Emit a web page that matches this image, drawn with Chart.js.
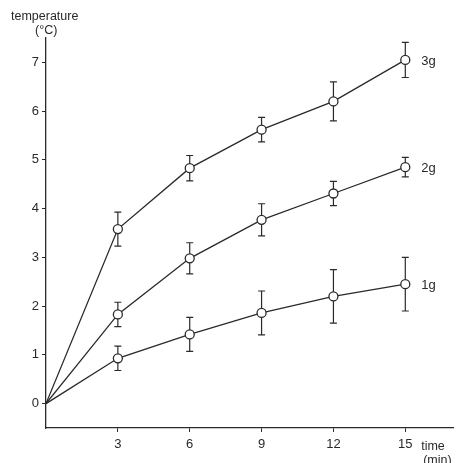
<!DOCTYPE html>
<html>
<head>
<meta charset="utf-8">
<script src="https://cdn.jsdelivr.net/npm/chart.js@4/dist/chart.umd.min.js"></script>
<style>
  body { margin: 0; background: #fff; }
  #wrap { width: 459px; height: 463px; }
</style>
</head>
<body>
<div id="wrap"><canvas id="tempChart" width="459" height="463"></canvas></div>
<script>
// time (min)
const xValues = [0, 3, 6, 9, 12, 15];
const xTicks = [3, 6, 9, 12, 15];
const yTicks = [0, 1, 2, 3, 4, 5, 6, 7];

// temperature rise (°C) and error (±)
const temp1g = [0, 0.93, 1.42, 1.86, 2.20, 2.45];
const err1g  = [0, 0.25, 0.35, 0.45, 0.55, 0.55];
const temp2g = [0, 1.83, 2.98, 3.77, 4.31, 4.85];
const err2g  = [0, 0.25, 0.32, 0.33, 0.25, 0.20];
const temp3g = [0, 3.58, 4.83, 5.62, 6.20, 7.05];
const err3g  = [0, 0.35, 0.26, 0.25, 0.40, 0.36];
const seriesNames = ['1g', '2g', '3g'];

const ink = '#2a2a2a';
const fontFam = '"Liberation Sans", Arial, sans-serif';

function makeSet(name, vals, errs) {
    return {
        label: name,
        data: xValues.map((x, i) => ({ x: x, y: vals[i] })),
        errors: errs,
        showLine: true,
        borderColor: ink,
        borderWidth: 1.3,
        backgroundColor: '#fff',
        pointBackgroundColor: '#fff',
        pointBorderColor: ink,
        pointBorderWidth: 1.3,
        pointRadius: xValues.map(x => x === 0 ? 0 : 4.5),
        tension: 0
    };
}

const errorBars = {
    id: 'errorBars',
    beforeDatasetsDraw(chart) {
        const ctx = chart.ctx;
        const xs = chart.scales.x, ys = chart.scales.y;
        ctx.save();
        ctx.strokeStyle = ink;
        ctx.lineWidth = 1.2;
        chart.data.datasets.forEach(ds => {
            ds.data.forEach((p, i) => {
                const e = ds.errors[i];
                if (!e) return;
                const px = xs.getPixelForValue(p.x);
                const top = ys.getPixelForValue(p.y + e);
                const bot = ys.getPixelForValue(p.y - e);
                ctx.beginPath();
                ctx.moveTo(px, top); ctx.lineTo(px, bot);
                ctx.moveTo(px - 3.5, top); ctx.lineTo(px + 3.5, top);
                ctx.moveTo(px - 3.5, bot); ctx.lineTo(px + 3.5, bot);
                ctx.stroke();
            });
        });
        ctx.restore();
    }
};

const labelsPlugin = {
    id: 'labelsPlugin',
    afterDraw(chart) {
        const ctx = chart.ctx;
        const xs = chart.scales.x, ys = chart.scales.y;
        const area = chart.chartArea;
        ctx.save();
        ctx.fillStyle = ink;
        ctx.font = '13px ' + fontFam;
        ctx.textBaseline = 'middle';
        // series names at last point
        chart.data.datasets.forEach(ds => {
            const last = ds.data[ds.data.length - 1];
            ctx.textAlign = 'left';
            ctx.fillText(ds.label, xs.getPixelForValue(last.x) + 16, ys.getPixelForValue(last.y) + 1);
        });
        // axis titles
        ctx.font = '12.5px ' + fontFam;
        ctx.textAlign = 'left';
        ctx.fillText('temperature', 11, 17);
        ctx.fillText('(°C)', 35, 31);
        ctx.fillText('time', area.right - 32, 447);
        ctx.fillText('(min)', area.right - 30, 461);
        ctx.restore();
    }
};

new Chart(document.getElementById('tempChart'), {
    type: 'scatter',
    data: {
        datasets: [
            makeSet(seriesNames[2], temp3g, err3g),
            makeSet(seriesNames[1], temp2g, err2g),
            makeSet(seriesNames[0], temp1g, err1g)
        ]
    },
    options: {
        responsive: false,
        animation: false,
        layout: { padding: { top: 38, right: 5, left: 0, bottom: 0 } },
        plugins: {
            legend: { display: false },
            tooltip: { enabled: false }
        },
        scales: {
            x: {
                type: 'linear',
                min: 0,
                max: 17,
                afterBuildTicks: s => { s.ticks = xTicks.map(v => ({ value: v })); },
                afterFit: s => { s.height = 35; },
                grid: { drawOnChartArea: false, tickLength: 4, color: ink, tickColor: ink },
                border: { color: ink, width: 1.3 },
                ticks: { color: ink, padding: 5, font: { size: 13, family: fontFam } }
            },
            y: {
                type: 'linear',
                min: -0.5,
                max: 7.5,
                afterBuildTicks: s => { s.ticks = yTicks.map(v => ({ value: v })); },
                afterFit: s => { s.width = 46; },
                grid: { drawOnChartArea: false, tickLength: 4, color: ink, tickColor: ink },
                border: { color: ink, width: 1.3 },
                ticks: { color: ink, padding: 3, font: { size: 13, family: fontFam } }
            }
        }
    },
    plugins: [errorBars, labelsPlugin]
});
</script>
</body>
</html>
